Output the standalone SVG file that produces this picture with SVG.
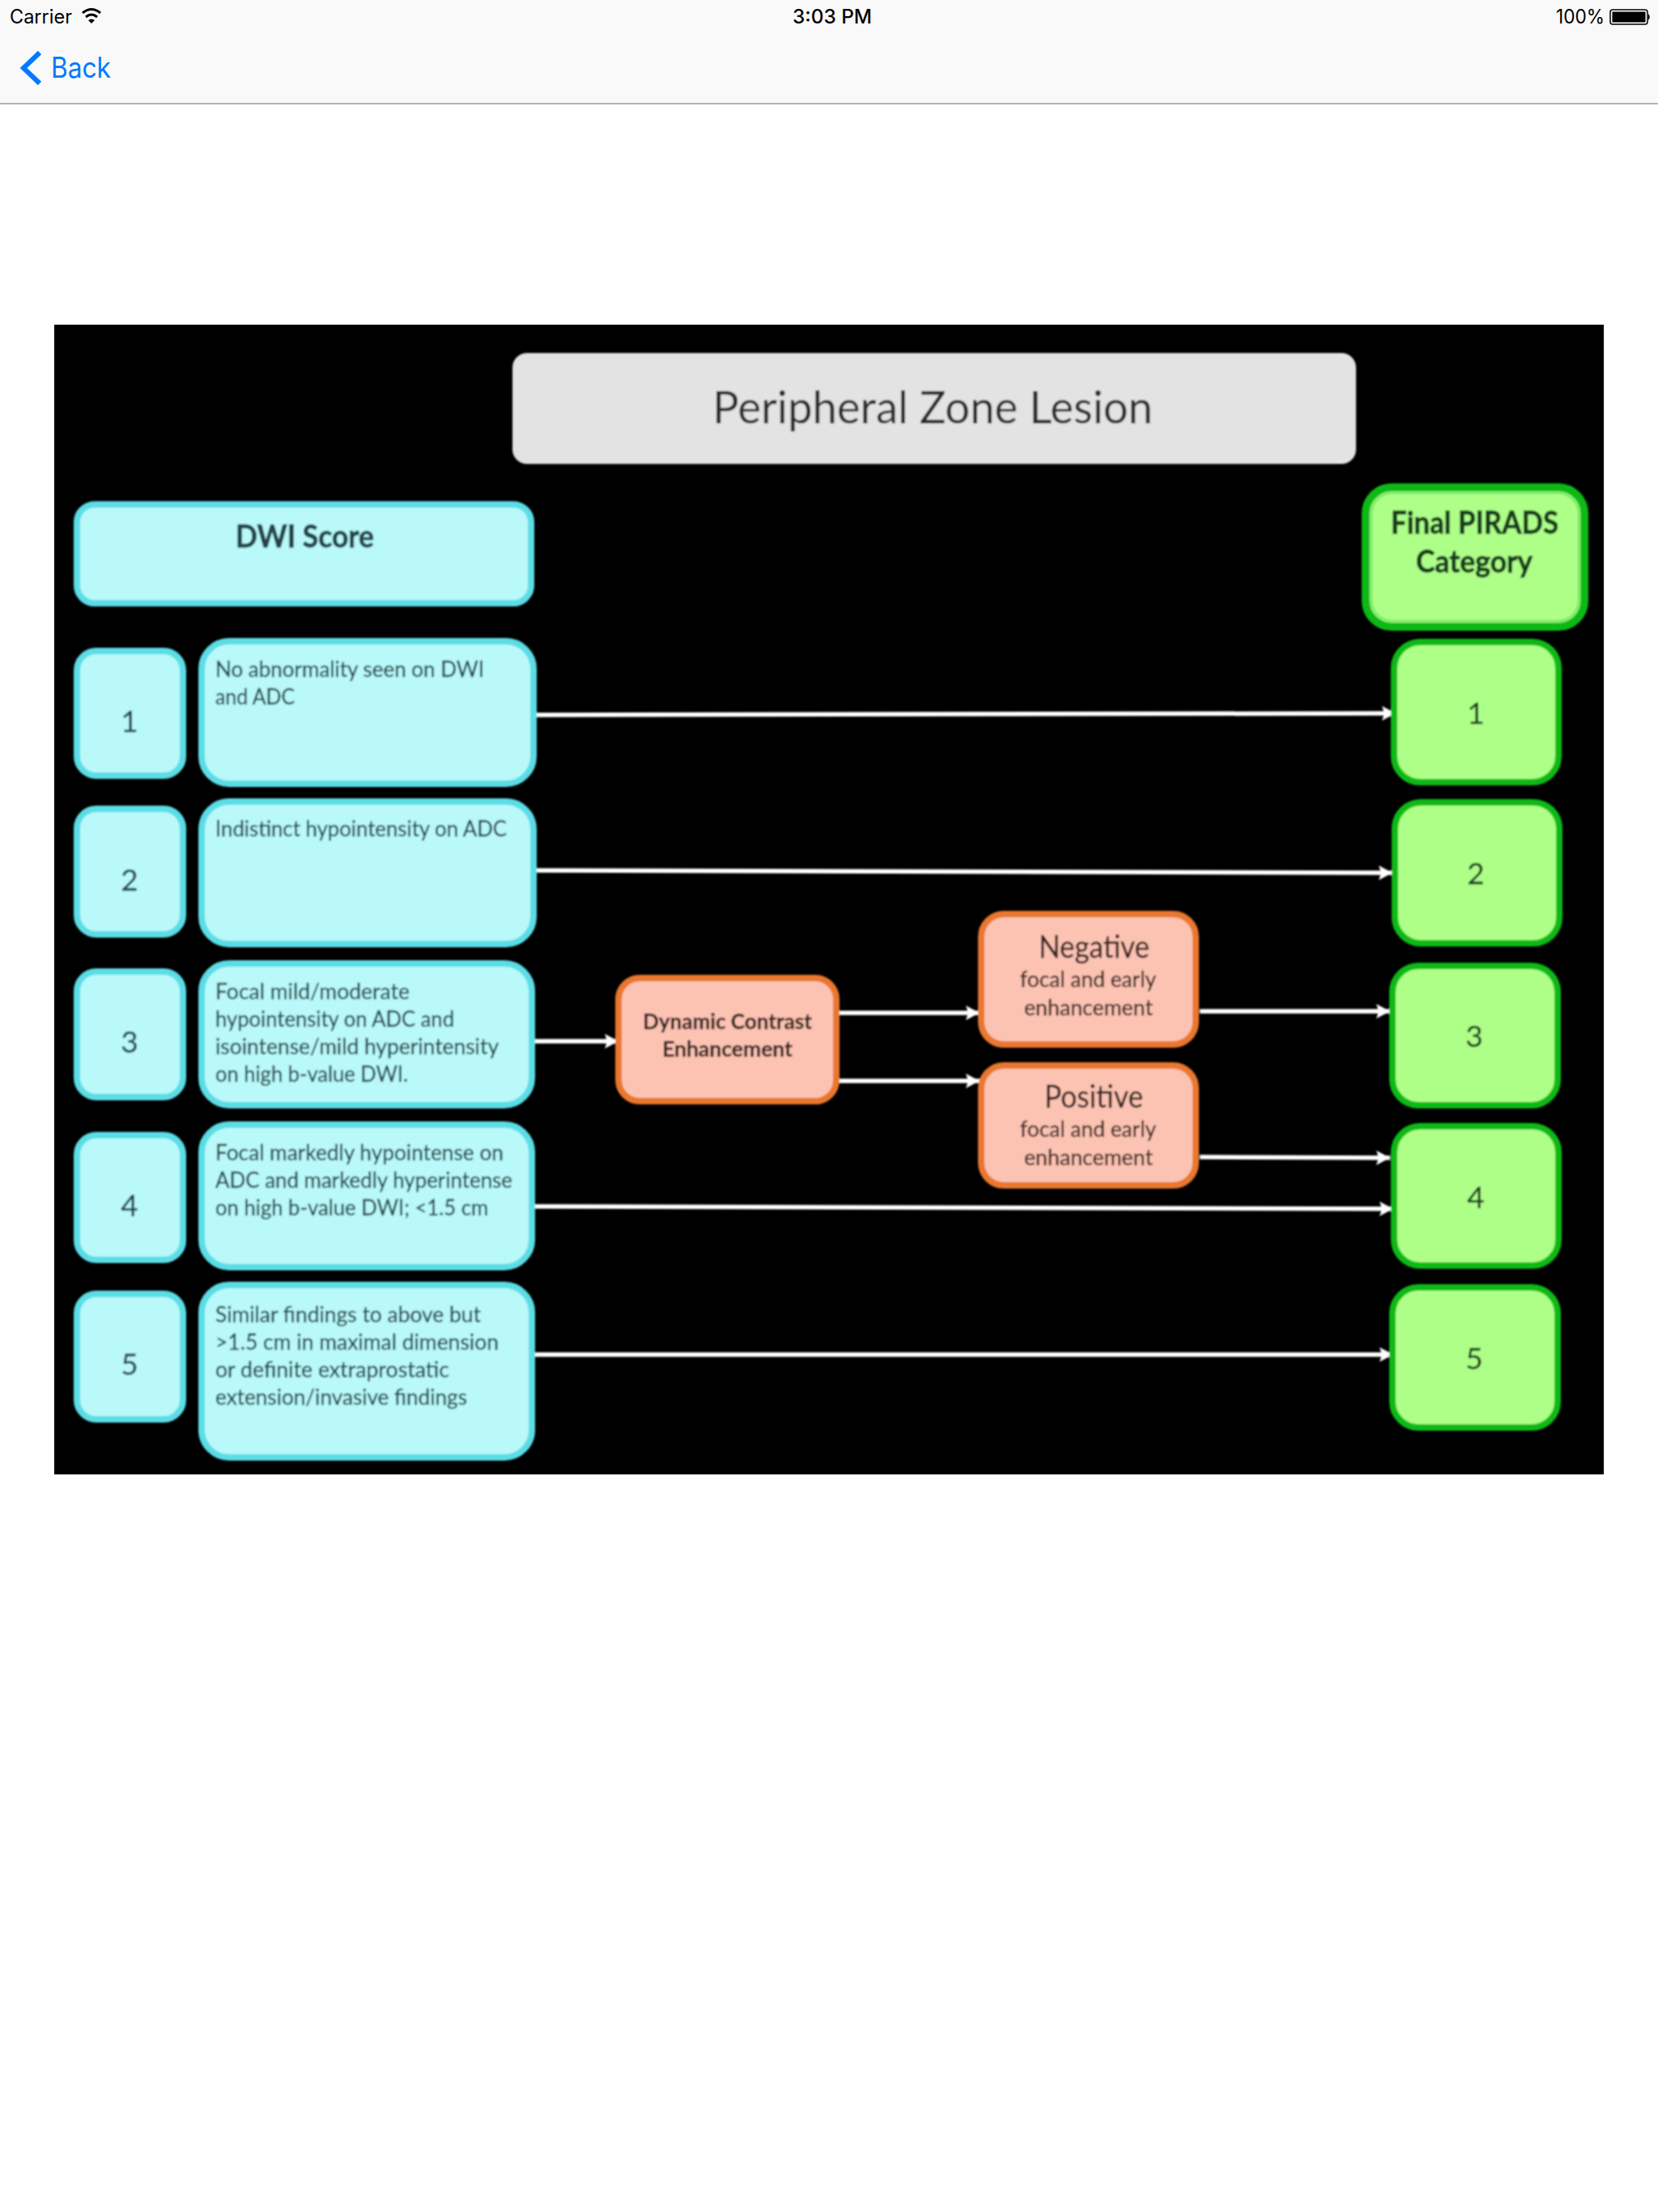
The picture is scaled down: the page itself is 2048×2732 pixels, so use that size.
<svg xmlns="http://www.w3.org/2000/svg" width="2048" height="2732" viewBox="0 0 2048 2732">
<style>
.ui{font-family:"Inter","Liberation Sans",sans-serif;font-size:24px;fill:#000}
.f{font-family:"Lato","Carlito","Liberation Sans",sans-serif}
.c rect{fill:#b9f9f9;stroke:#5cdde6;stroke-width:8}
.c text{fill:#24444a;stroke:#24444a;stroke-width:.3}
.o rect{fill:#fcc3b3;stroke:#e9772e;stroke-width:8}
.o text{fill:#33211f;stroke:#33211f;stroke-width:.3}
.g rect{fill:#aeff88;stroke:#10b914;stroke-width:8}
.g text{fill:#143c1e;stroke:#143c1e;stroke-width:.3}
.s{font-size:27px}
.n{font-size:37px}
.c .h,.g .h{font-size:38px;font-weight:700;stroke-width:.8}
.m{font-size:38px}
.w{stroke:#fff;stroke-width:5.500;fill:none;marker-end:url(#a)}
</style>
<defs>
<marker id="a" markerUnits="userSpaceOnUse" markerWidth="18" markerHeight="20" refX="17" refY="10" orient="auto"><path d="M0 1 L17 10 L0 19 L3 10Z" fill="#fff"/></marker>
<filter id="b" x="-2%" y="-2%" width="104%" height="104%"><feGaussianBlur stdDeviation="1"/></filter>
</defs>
<rect width="2048" height="2732" fill="#fff"/>
<g id="statusbar">
<rect width="2048" height="128" fill="#f9f9f9"/>
<rect y="127" width="2048" height="2" fill="#b2b2b2"/>
<text class="ui" x="12" y="29" textLength="77" lengthAdjust="spacingAndGlyphs">Carrier</text>
<path d="M102 16 Q113 7 124 16 M106 21 Q113 15 120 21" fill="none" stroke="#000" stroke-width="3"/>
<path d="M109 25 Q113 22 117 25 L113 29Z" fill="#000"/>
<text class="ui" x="979" y="29" textLength="98" lengthAdjust="spacingAndGlyphs" font-weight="500">3:03 PM</text>
<text class="ui" x="1922" y="29" textLength="60" lengthAdjust="spacingAndGlyphs">100%</text>
<rect x="1989" y="12" width="46" height="18" rx="3" fill="none" stroke="#000" stroke-width="1.500"/>
<rect x="1991.500" y="14.500" width="41" height="13" fill="#000"/>
<path d="M2036 17 q3.500 4 0 8Z" fill="#000"/>
<path d="M49 65 L29 84 L49 103" fill="none" stroke="#007aff" stroke-width="6"/>
<text class="ui" x="63" y="96" style="font-size:35px;fill:#007aff" textLength="74" lengthAdjust="spacingAndGlyphs">Back</text>
</g>
<rect id="panel" x="67" y="401" width="1914" height="1420" fill="#000"/>
<g filter="url(#b)">
<g id="connectors">
<line class="w" x1="660" y1="883" x2="1724" y2="881"/>
<line class="w" x1="657" y1="1075" x2="1720" y2="1078"/>
<line class="w" x1="659" y1="1286" x2="764" y2="1286"/>
<line class="w" x1="1034" y1="1251" x2="1210" y2="1251"/>
<line class="w" x1="1034" y1="1335" x2="1210" y2="1335"/>
<line class="w" x1="1482" y1="1249" x2="1717" y2="1249"/>
<line class="w" x1="1482" y1="1429" x2="1717" y2="1430"/>
<line class="w" x1="659" y1="1490" x2="1721" y2="1493"/>
<line class="w" x1="659" y1="1673" x2="1721" y2="1673"/>
</g>
<g id="title"><rect x="633" y="436" width="1042" height="137" rx="18" fill="#e3e3e3"/>
<text class="f" x="880" y="523" font-size="56" fill="#2a2a2e" textLength="544" lengthAdjust="spacingAndGlyphs">Peripheral Zone Lesion</text></g>
<g id="dwi-header" class="c"><rect x="95" y="623" width="561" height="122" rx="22"/><text class="f h" x="291" y="676" textLength="171" lengthAdjust="spacingAndGlyphs">DWI Score</text></g>
<g id="dwi-1" class="c"><rect x="95" y="804" width="131" height="154" rx="24"/><text class="f n" x="160" y="904" text-anchor="middle">1</text></g>
<g id="dwi-1-text" class="c"><rect x="249" y="792" width="410" height="176" rx="34"/>
<text class="f s" x="266" y="836" textLength="332" lengthAdjust="spacingAndGlyphs">No abnormality seen on DWI</text>
<text class="f s" x="266" y="870" textLength="98" lengthAdjust="spacingAndGlyphs">and ADC</text></g>
<g id="dwi-2" class="c"><rect x="95" y="999" width="131" height="155" rx="24"/><text class="f n" x="160" y="1100" text-anchor="middle">2</text></g>
<g id="dwi-2-text" class="c"><rect x="249" y="990" width="410" height="176" rx="34"/>
<text class="f s" x="266" y="1033" textLength="360" lengthAdjust="spacingAndGlyphs">Indistinct hypointensity on ADC</text></g>
<g id="dwi-3" class="c"><rect x="95" y="1200" width="131" height="155" rx="24"/><text class="f n" x="160" y="1300" text-anchor="middle">3</text></g>
<g id="dwi-3-text" class="c"><rect x="249" y="1190" width="408" height="175" rx="34"/>
<text class="f s" x="266" y="1234" textLength="240" lengthAdjust="spacingAndGlyphs">Focal mild/moderate</text>
<text class="f s" x="266" y="1268" textLength="295" lengthAdjust="spacingAndGlyphs">hypointensity on ADC and</text>
<text class="f s" x="266" y="1302" textLength="350" lengthAdjust="spacingAndGlyphs">isointense/mild hyperintensity</text>
<text class="f s" x="266" y="1336" textLength="238" lengthAdjust="spacingAndGlyphs">on high b-value DWI.</text></g>
<g id="dwi-4" class="c"><rect x="95" y="1402" width="131" height="154" rx="24"/><text class="f n" x="160" y="1502" text-anchor="middle">4</text></g>
<g id="dwi-4-text" class="c"><rect x="249" y="1389" width="408" height="176" rx="34"/>
<text class="f s" x="266" y="1433" textLength="356" lengthAdjust="spacingAndGlyphs">Focal markedly hypointense on</text>
<text class="f s" x="266" y="1467" textLength="367" lengthAdjust="spacingAndGlyphs">ADC and markedly hyperintense</text>
<text class="f s" x="266" y="1501" textLength="337" lengthAdjust="spacingAndGlyphs">on high b-value DWI; &lt;1.5 cm</text></g>
<g id="dwi-5" class="c"><rect x="95" y="1598" width="131" height="155" rx="24"/><text class="f n" x="160" y="1698" text-anchor="middle">5</text></g>
<g id="dwi-5-text" class="c"><rect x="249" y="1587" width="408" height="213" rx="34"/>
<text class="f s" x="266" y="1633" textLength="328" lengthAdjust="spacingAndGlyphs">Similar findings to above but</text>
<text class="f s" x="266" y="1667" textLength="350" lengthAdjust="spacingAndGlyphs">&gt;1.5 cm in maximal dimension</text>
<text class="f s" x="266" y="1701" textLength="289" lengthAdjust="spacingAndGlyphs">or definite extraprostatic</text>
<text class="f s" x="266" y="1735" textLength="311" lengthAdjust="spacingAndGlyphs">extension/invasive findings</text></g>
<g id="dce" class="o"><rect x="764" y="1208" width="269" height="152" rx="26"/>
<text class="f" font-size="26" font-weight="700" x="794" y="1271" textLength="209" lengthAdjust="spacingAndGlyphs">Dynamic Contrast</text>
<text class="f" font-size="26" font-weight="700" x="818" y="1305" textLength="161" lengthAdjust="spacingAndGlyphs">Enhancement</text></g>
<g id="negative" class="o"><rect x="1212" y="1129" width="265" height="161" rx="28"/>
<text class="f m" x="1283" y="1183" textLength="137" lengthAdjust="spacingAndGlyphs">Negative</text>
<text class="f s" x="1260" y="1219" textLength="168" lengthAdjust="spacingAndGlyphs">focal and early</text>
<text class="f s" x="1265" y="1254" textLength="159" lengthAdjust="spacingAndGlyphs">enhancement</text></g>
<g id="positive" class="o"><rect x="1212" y="1316" width="265" height="148" rx="28"/>
<text class="f m" x="1290" y="1368" textLength="122" lengthAdjust="spacingAndGlyphs">Positive</text>
<text class="f s" x="1260" y="1404" textLength="168" lengthAdjust="spacingAndGlyphs">focal and early</text>
<text class="f s" x="1265" y="1439" textLength="159" lengthAdjust="spacingAndGlyphs">enhancement</text></g>
<g id="final-header" class="g"><rect x="1687" y="602" width="270" height="172" rx="32" style="stroke-width:10"/><rect x="1694" y="609" width="256" height="158" rx="26" style="stroke:#66e85a;stroke-width:2;fill:none"/>
<text class="f h" x="1718" y="659" textLength="207" lengthAdjust="spacingAndGlyphs">Final PIRADS</text>
<text class="f h" x="1749" y="707" textLength="144" lengthAdjust="spacingAndGlyphs">Category</text></g>
<g id="final-1" class="g"><rect x="1722" y="793" width="203" height="173" rx="32"/><text class="f n" x="1823" y="894" text-anchor="middle">1</text></g>
<g id="final-2" class="g"><rect x="1723" y="991" width="203" height="174" rx="32"/><text class="f n" x="1823" y="1092" text-anchor="middle">2</text></g>
<g id="final-3" class="g"><rect x="1720" y="1193" width="204" height="172" rx="32"/><text class="f n" x="1821" y="1293" text-anchor="middle">3</text></g>
<g id="final-4" class="g"><rect x="1722" y="1391" width="203" height="172" rx="32"/><text class="f n" x="1823" y="1492" text-anchor="middle">4</text></g>
<g id="final-5" class="g"><rect x="1720" y="1590" width="204" height="173" rx="32"/><text class="f n" x="1821" y="1691" text-anchor="middle">5</text></g>
</g>
</svg>
